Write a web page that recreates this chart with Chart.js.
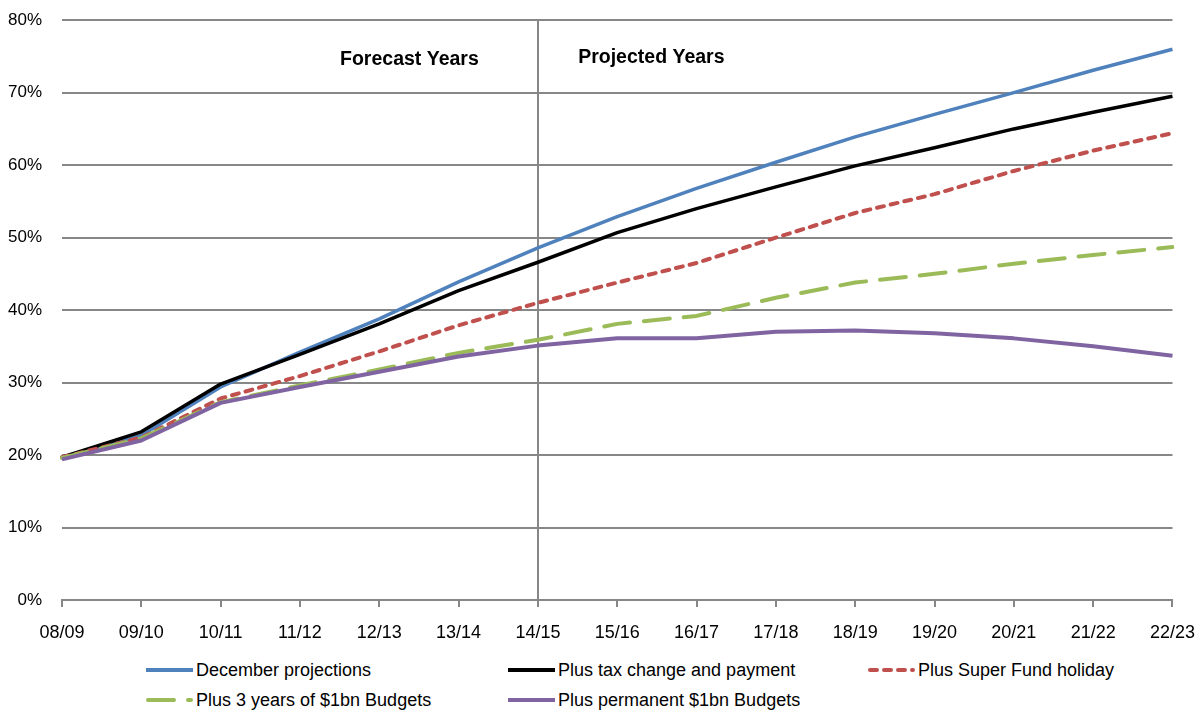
<!DOCTYPE html>
<html>
<head>
<meta charset="utf-8">
<script src="https://cdn.jsdelivr.net/npm/chart.js@4.4.1/dist/chart.umd.min.js"></script>
<style>
  html, body { margin: 0; padding: 0; background: #fff; }
  #wrap { position: relative; width: 1202px; height: 710px; overflow: hidden; }
  #debt-chart { position: absolute; left: 0; top: -10px; }
  .legend-item {
    position: absolute;
    display: flex;
    align-items: center;
    font-family: "Liberation Sans", Arial, sans-serif;
    font-size: 18px;
    color: #000;
    white-space: nowrap;
  }
  .legend-item svg { display: block; margin-right: 3px; }
</style>
</head>
<body>
<div id="wrap">
  <canvas id="debt-chart" width="1210" height="660"></canvas>
  <div id="debt-legend"></div>
</div>
<script>
// Categories (financial years)
const years = ['08/09', '09/10', '10/11', '11/12', '12/13', '13/14', '14/15', '15/16',
  '16/17', '17/18', '18/19', '19/20', '20/21', '21/22', '22/23'];

// Series values, % of GDP
const decemberProjections = [19.7, 22.7, 29.4, 34.2, 38.8, 43.9, 48.6, 52.9, 56.8, 60.4, 63.9, 67.0, 70.0, 73.1, 76.0];
const plusTaxChange = [19.7, 23.2, 29.8, 33.9, 38.1, 42.7, 46.6, 50.7, 54.0, 57.0, 59.9, 62.4, 65.0, 67.3, 69.5];
const plusSuperHoliday = [19.7, 22.4, 27.8, 30.9, 34.3, 37.9, 41.0, 43.8, 46.5, 50.0, 53.4, 56.0, 59.2, 62.0, 64.4];
const plusThreeYearBudgets = [19.6, 22.3, 27.3, 29.6, 31.8, 34.1, 35.9, 38.1, 39.2, 41.7, 43.8, 45.0, 46.4, 47.6, 48.7];
const plusPermanentBudgets = [19.4, 22.0, 27.2, 29.4, 31.5, 33.6, 35.1, 36.1, 36.1, 37.0, 37.2, 36.8, 36.1, 35.0, 33.7];

// Y axis ticks
const yTicks = [0, 10, 20, 30, 40, 50, 60, 70, 80];

// Text labels inside the plot
const periodLabels = ['Forecast Years', 'Projected Years'];
const splitIndex = years.indexOf('14/15');

const gridColor = '#878787';
const tickFont = { family: '"Liberation Sans", Arial, sans-serif', size: 17 };

const series = [
  { label: 'December projections', data: decemberProjections, color: '#4F81BD', width: 3.5, dash: [], cap: 'butt' },
  { label: 'Plus tax change and payment', data: plusTaxChange, color: '#000000', width: 3.5, dash: [], cap: 'butt' },
  { label: 'Plus Super Fund holiday', data: plusSuperHoliday, color: '#C0504D', width: 4, dash: [7, 7], cap: 'round' },
  { label: 'Plus 3 years of $1bn Budgets', data: plusThreeYearBudgets, color: '#9BBB59', width: 4, dash: [26, 14], cap: 'round' },
  { label: 'Plus permanent $1bn Budgets', data: plusPermanentBudgets, color: '#8064A2', width: 4, dash: [], cap: 'butt' },
];

// Forecast / Projected labels, placed through the scales
const periodText = {
  id: 'periodText',
  afterDatasetsDraw(c) {
    const x = c.scales.x;
    const y = c.scales.y;
    const ctx = c.ctx;
    ctx.save();
    ctx.font = 'bold 19.5px "Liberation Sans", Arial, sans-serif';
    ctx.fillStyle = '#000';
    ctx.textBaseline = 'middle';
    ctx.textAlign = 'center';
    ctx.fillText(periodLabels[0], x.getPixelForValue(splitIndex - 1.62), y.getPixelForValue(74.6));
    ctx.fillText(periodLabels[1], x.getPixelForValue(splitIndex + 1.43), y.getPixelForValue(74.8));
    ctx.restore();
  },
};

const chart = new Chart(document.getElementById('debt-chart'), {
  type: 'line',
  data: {
    labels: years,
    datasets: series.map((s, i) => ({
      label: s.label,
      data: s.data,
      borderColor: s.color,
      backgroundColor: s.color,
      borderWidth: s.width,
      borderDash: s.dash,
      borderCapStyle: s.cap,
      borderJoinStyle: 'round',
      pointRadius: 0,
      tension: 0,
      fill: false,
      order: series.length - i, // later series drawn on top
    })),
  },
  options: {
    responsive: false,
    devicePixelRatio: 1,
    animation: false,
    layout: {
      padding: { top: 9, right: 24, bottom: 0, left: 0 },
    },
    scales: {
      x: {
        type: 'category',
        offset: false,
        border: { display: true, color: gridColor, width: 2 },
        grid: {
          color: (ctx) => (ctx.index === splitIndex ? gridColor : 'rgba(0,0,0,0)'),
          tickColor: gridColor,
          lineWidth: 2,
          tickLength: 7,
          drawTicks: true,
        },
        ticks: {
          color: '#000',
          font: { family: tickFont.family, size: 18 },
          padding: 15,
          maxRotation: 0,
          autoSkip: false,
        },
        afterFit: (scale) => { scale.height = 50; },
      },
      y: {
        min: 0,
        max: 80,
        afterBuildTicks: (scale) => { scale.ticks = yTicks.map((v) => ({ value: v })); },
        border: { display: false },
        grid: {
          color: gridColor,
          lineWidth: 2,
          drawTicks: false,
        },
        ticks: {
          color: '#000',
          font: tickFont,
          padding: 20,
          callback: (value) => value + '%',
        },
        afterFit: (scale) => { scale.width = 62; },
      },
    },
    plugins: {
      legend: { display: false },
      tooltip: { enabled: false },
    },
  },
  plugins: [periodText],
});

// HTML legend, two rows in three columns
const legendEl = document.getElementById('debt-legend');
const legendCols = [146, 508, 868];
const legendRows = [670, 700];
series.forEach((s, i) => {
  const item = document.createElement('div');
  item.className = 'legend-item';
  item.style.left = legendCols[i % 3] + 'px';
  item.style.top = (legendRows[Math.floor(i / 3)] - 11) + 'px';
  item.style.height = '22px';
  const svgNS = 'http://www.w3.org/2000/svg';
  const svg = document.createElementNS(svgNS, 'svg');
  svg.setAttribute('width', '47');
  svg.setAttribute('height', '10');
  const line = document.createElementNS(svgNS, 'line');
  const capPad = s.cap === 'round' ? 2 : 0;
  line.setAttribute('x1', String(capPad));
  line.setAttribute('x2', String(47 - capPad));
  line.setAttribute('y1', '5');
  line.setAttribute('y2', '5');
  line.setAttribute('stroke', s.color);
  line.setAttribute('stroke-width', '4');
  line.setAttribute('stroke-linecap', s.cap);
  if (s.dash.length) line.setAttribute('stroke-dasharray', s.dash.join(' '));
  svg.appendChild(line);
  const label = document.createElement('span');
  label.textContent = s.label;
  item.appendChild(svg);
  item.appendChild(label);
  legendEl.appendChild(item);
});
</script>
</body>
</html>
